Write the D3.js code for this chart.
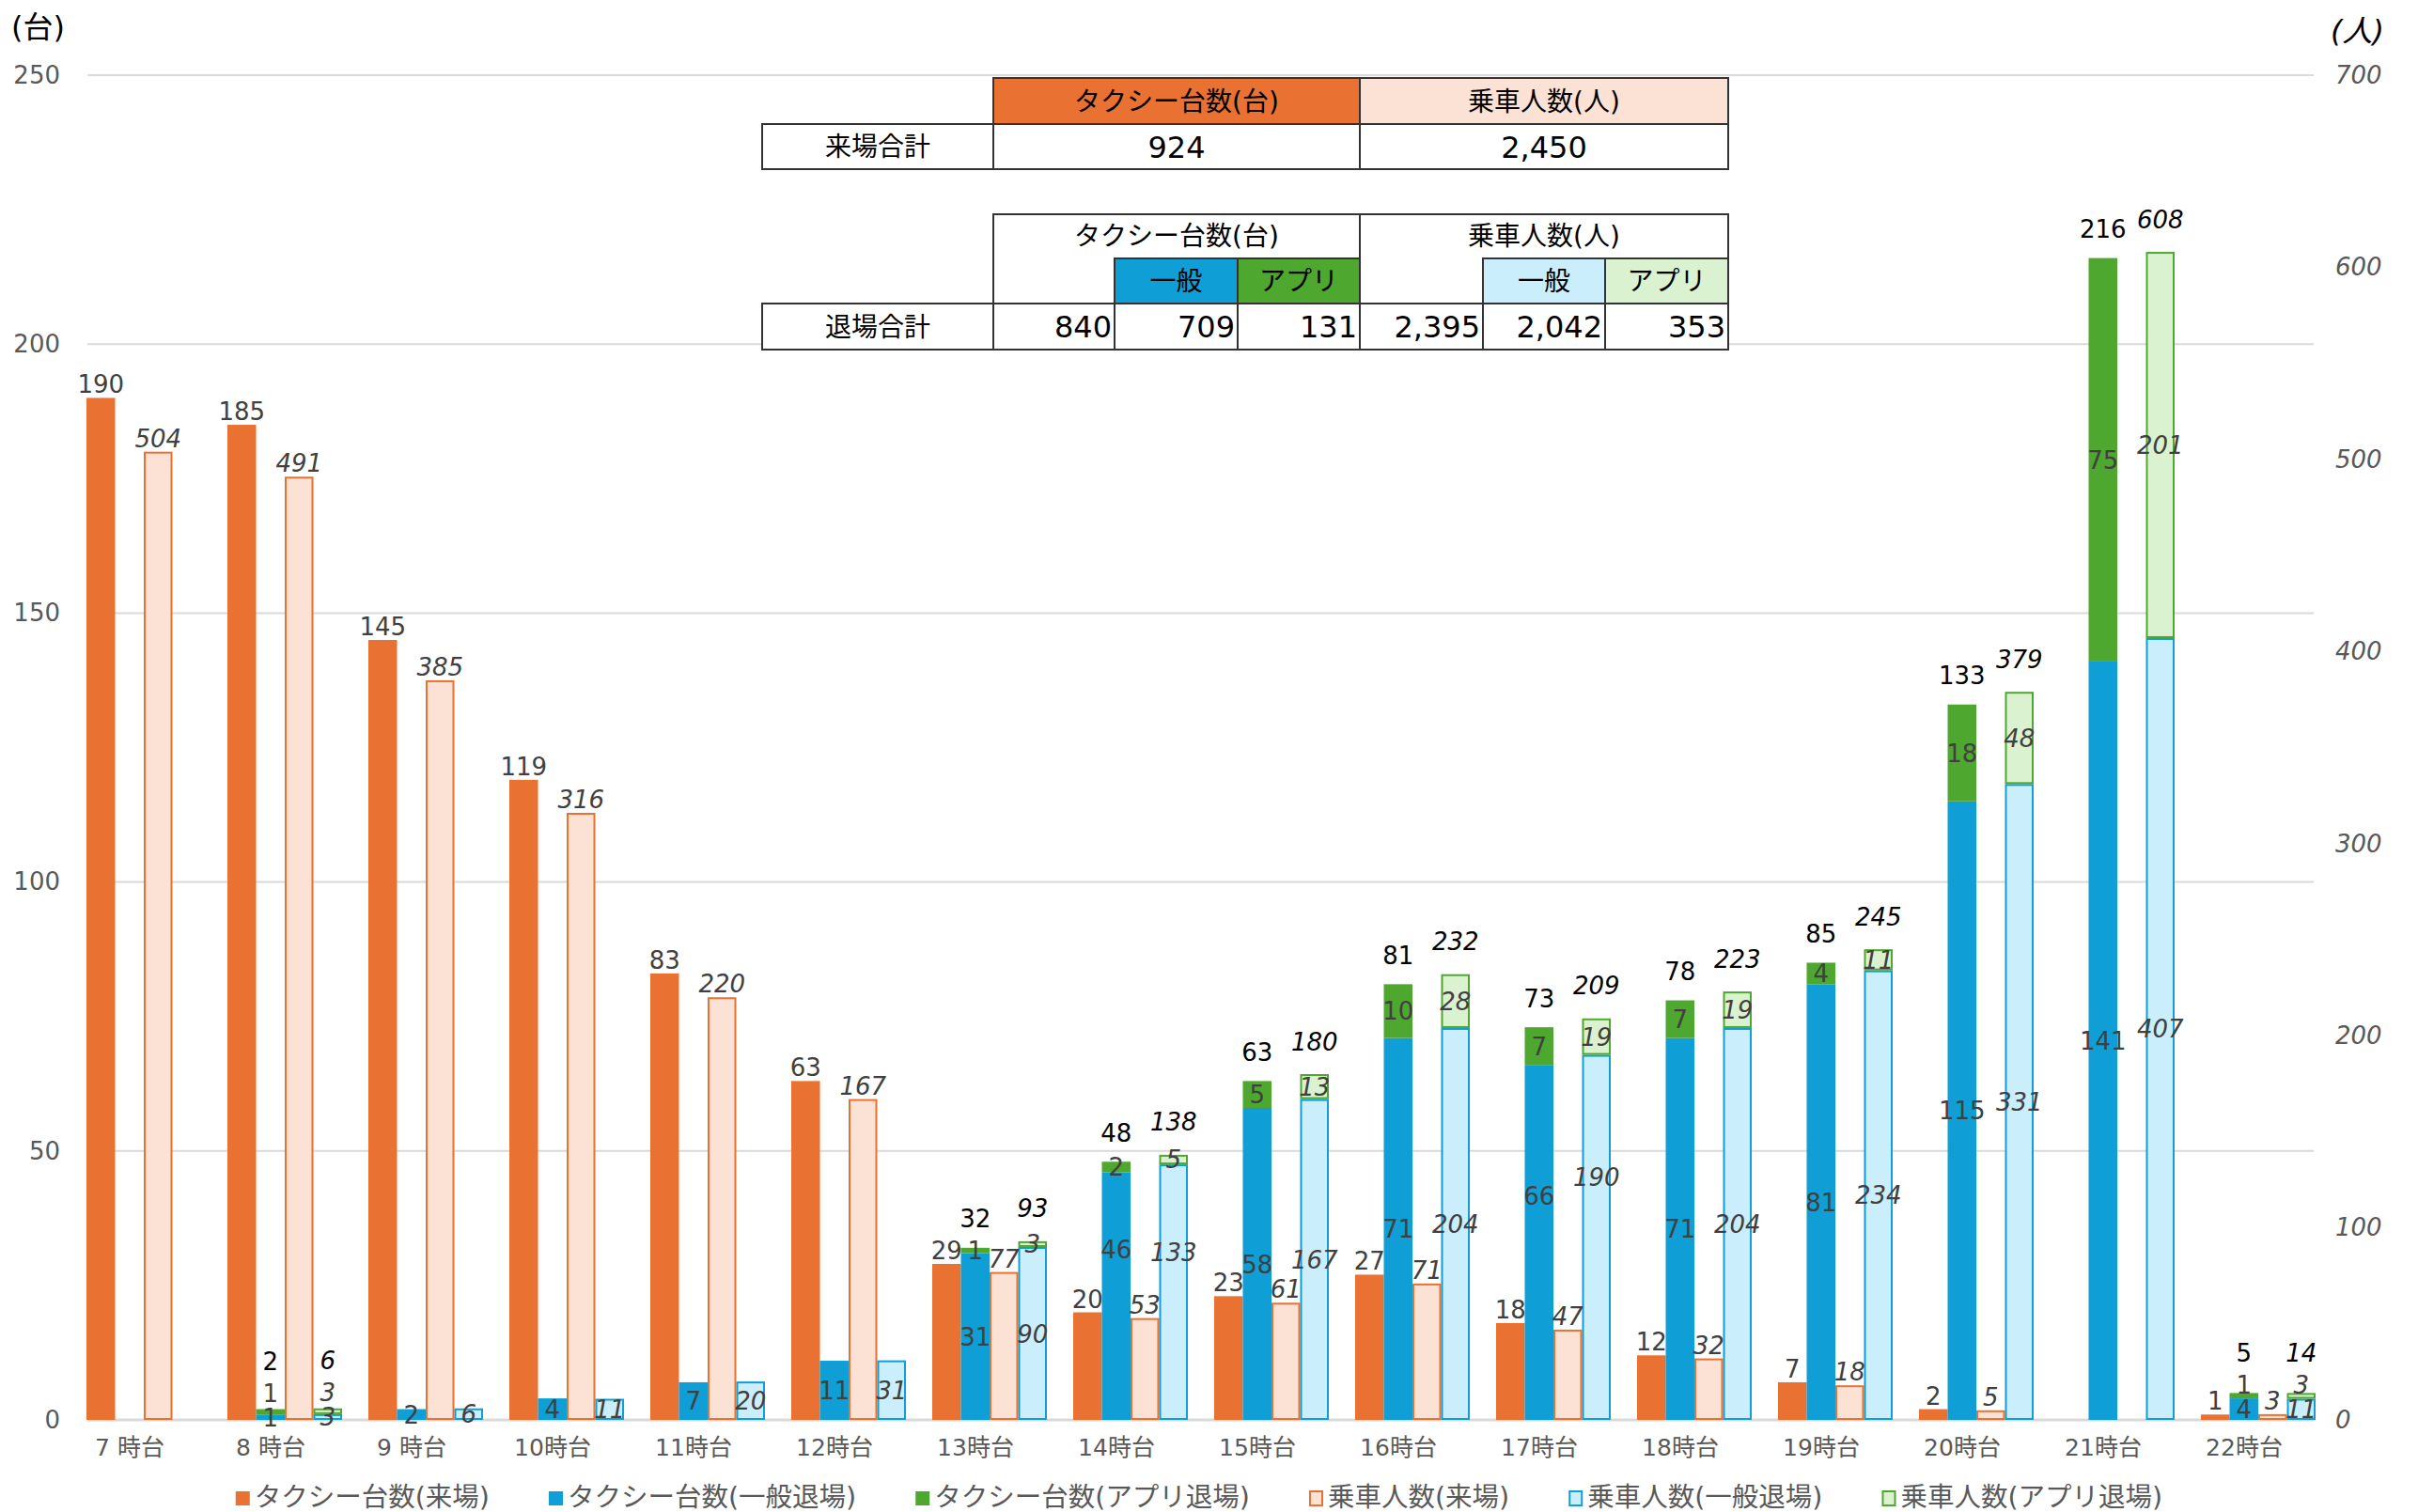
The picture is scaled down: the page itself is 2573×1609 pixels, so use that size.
<!DOCTYPE html>
<html lang="ja">
<head>
<meta charset="utf-8">
<script src="https://cdn.jsdelivr.net/npm/d3@7"></script>
<style>
  body { margin: 0; background: #fff; }
  svg text { font-family: "DejaVu Sans", "Noto Sans CJK JP", sans-serif; }
</style>
</head>
<body>
<script>
//----------------- Data -----------------

const hours = ["7 時台", "8 時台", "9 時台", "10時台", "11時台", "12時台", "13時台", "14時台",
  "15時台", "16時台", "17時台", "18時台", "19時台", "20時台", "21時台", "22時台"];

// taxis (台) - left axis
const taxiArrive  = [190, 185, 145, 119, 83, 63, 29, 20, 23, 27, 18, 12, 7, 2, null, 1];
const taxiGeneral = [null, 1, 2, 4, 7, 11, 31, 46, 58, 71, 66, 71, 81, 115, 141, 4];
const taxiApp     = [null, 1, null, null, null, null, 1, 2, 5, 10, 7, 7, 4, 18, 75, 1];

// passengers (人) - right axis
const paxArrive  = [504, 491, 385, 316, 220, 167, 77, 53, 61, 71, 47, 32, 18, 5, null, 3];
const paxGeneral = [null, 3, 6, 11, 20, 31, 90, 133, 167, 204, 190, 204, 234, 331, 407, 11];
const paxApp     = [null, 3, null, null, null, null, 3, 5, 13, 28, 19, 19, 11, 48, 201, 3];

const leftTicks = [0, 50, 100, 150, 200, 250];
const rightTicks = [0, 100, 200, 300, 400, 500, 600, 700];

const legendNames = ["タクシー台数(来場)", "タクシー台数(一般退場)", "タクシー台数(アプリ退場)",
  "乗車人数(来場)", "乗車人数(一般退場)", "乗車人数(アプリ退場)"];

//----------------- Styles -----------------

const ORANGE = "#E97132", BLUE = "#0F9ED5", GREEN = "#4EA72E";
const L_ORANGE = "#FBE2D5", L_BLUE = "#CAEEFB", L_GREEN = "#DAF2D0";
const GRID = "#D9D9D9", AXIS_TXT = "#595959", LBL = "#404040";

// labels that were dragged up by hand in the original
const labelLift = { "14時台": { taxi: 50, pax: 43 }, "17時台": { taxi: 50, pax: 64 } };

const width = 2573, height = 1609;
const plotL = 93, plotR = 2462, plotT = 80, plotB = 1511;

const svg = d3.select("body").append("svg").attr("width", width).attr("height", height);

//----------------- Scales -----------------

const x = d3.scaleBand().domain(hours).range([92, 2464]).paddingInner(0.1867).paddingOuter(0);
const sub = d3.scaleBand().domain(["ta", "tg", "pa", "pg"]).range([0, x.bandwidth()]);
const yL = d3.scaleLinear().domain([0, 250]).range([plotB, plotT]);
const yR = d3.scaleLinear().domain([0, 700]).range([plotB, plotT]);

//----------------- Grid & axes -----------------

svg.append("g").selectAll("line").data(leftTicks).enter().append("line")
  .attr("x1", plotL).attr("x2", plotR)
  .attr("y1", (d) => yL(d)).attr("y2", (d) => yL(d))
  .attr("stroke", GRID).attr("stroke-width", (d) => (d === 0 ? 3 : 2));

const axL = svg.append("g").attr("transform", "translate(72,0)")
  .call(d3.axisLeft(yL).tickValues(leftTicks).tickSize(0).tickPadding(8));
axL.select(".domain").remove();
axL.selectAll("text").style("font-size", "26px").attr("fill", AXIS_TXT);

const axR = svg.append("g").attr("transform", "translate(2477,0)")
  .call(d3.axisRight(yR).tickValues(rightTicks).tickSize(0).tickPadding(8));
axR.select(".domain").remove();
axR.selectAll("text").style("font-size", "26px").style("font-style", "italic").attr("fill", AXIS_TXT);

const axX = svg.append("g").attr("transform", `translate(-15,${plotB})`)
  .call(d3.axisBottom(x).tickSize(0));
axX.select(".domain").remove();
axX.selectAll("text").style("font-size", "25px").attr("fill", AXIS_TXT).attr("y", 29).attr("dy", "0.35em");

svg.append("text").text("(台)").attr("x", 12).attr("y", 40).style("font-size", "32px").attr("fill", "#000");
svg.append("text").text("(人)").attr("x", 2480).attr("y", 44).style("font-size", "32px")
  .style("font-style", "italic").attr("fill", "#000");

//----------------- Bars -----------------

const bars = svg.append("g");
const labels = svg.append("g");

function label(cx, cy, txt, italic, color) {
  labels.append("text").text(txt)
    .attr("x", cx).attr("y", cy + 9.5)
    .attr("text-anchor", "middle")
    .style("font-size", "26px")
    .style("font-style", italic ? "italic" : "normal")
    .attr("fill", color);
}

function rect(x0, w, yTop, yBot, fill, stroke) {
  const r = bars.append("rect").attr("fill", fill);
  if (stroke) {
    r.attr("x", x0 + 1).attr("width", w - 2).attr("y", yTop + 1).attr("height", Math.max(0, yBot - yTop - 2))
      .attr("stroke", stroke).attr("stroke-width", 2);
  } else {
    r.attr("x", x0).attr("width", w).attr("y", yTop).attr("height", yBot - yTop);
  }
}

// one arrival bar + one stacked departure bar (general / app)
function drawPair(h, i, arrive, general, app, y, kind, italic, fills) {
  const bw = sub.bandwidth();
  const xa = x(h) + sub(kind === "taxi" ? "ta" : "pa");
  const xd = x(h) + sub(kind === "taxi" ? "tg" : "pg");
  const outline = kind === "pax";

  if (arrive != null) {
    rect(xa, bw, y(arrive), y(0), fills.arrive, outline ? ORANGE : null);
    label(xa + bw / 2, y(arrive) - 14.5, arrive, italic, LBL);
  }

  const stack = d3.stack().keys(["general", "app"])([{ general: general || 0, app: app || 0 }]);
  const [gSeg, aSeg] = stack;
  if (general != null) {
    rect(xd, bw, y(gSeg[0][1]), y(gSeg[0][0]), fills.general, outline ? BLUE : null);
  }
  if (app != null) {
    rect(xd, bw, y(aSeg[0][1]), y(aSeg[0][0]), fills.app, outline ? GREEN : null);
  }

  const lift = (labelLift[h] || {})[kind] || 0;
  const genY = (y(gSeg[0][0]) + y(gSeg[0][1])) / 2 - lift;
  if (general != null) label(xd + bw / 2, genY, general, italic, LBL);
  if (app != null) {
    const appY = Math.min((y(aSeg[0][0]) + y(aSeg[0][1])) / 2, genY - 26);
    label(xd + bw / 2, appY, app, italic, LBL);
    const total = aSeg[0][1];
    const totY = Math.min(y(total) - (italic ? 35 : 31), appY - 34);
    label(xd + bw / 2, totY, total, italic, "#000");
  }
}

hours.forEach((h, i) => {
  drawPair(h, i, taxiArrive[i], taxiGeneral[i], taxiApp[i], yL, "taxi", false,
    { arrive: ORANGE, general: BLUE, app: GREEN });
  drawPair(h, i, paxArrive[i], paxGeneral[i], paxApp[i], yR, "pax", true,
    { arrive: L_ORANGE, general: L_BLUE, app: L_GREEN });
});

//----------------- Summary tables -----------------

const fmt = d3.format(",");
const sum = (arr) => d3.sum(arr, (d) => d || 0);

const taxiIn = sum(taxiArrive), paxIn = sum(paxArrive);
const taxiG = sum(taxiGeneral), taxiA = sum(taxiApp);
const paxG = sum(paxGeneral), paxA = sum(paxApp);

// [x0, x1, y0, y1, fill, text, align, textCenterY]
const cells = [
  [1057, 1447, 83, 132, ORANGE, "タクシー台数(台)", "middle"],
  [1447, 1839, 83, 132, L_ORANGE, "乗車人数(人)", "middle"],
  [811, 1057, 132, 180, "#fff", "来場合計", "middle"],
  [1057, 1447, 132, 180, "#fff", fmt(taxiIn), "middle"],
  [1447, 1839, 132, 180, "#fff", fmt(paxIn), "middle"],

  [1057, 1447, 228, 323, "#fff", "タクシー台数(台)", "middle", 251],
  [1447, 1839, 228, 323, "#fff", "乗車人数(人)", "middle", 251],
  [1186, 1317, 275, 323, BLUE, "一般", "middle"],
  [1317, 1447, 275, 323, GREEN, "アプリ", "middle"],
  [1578, 1708, 275, 323, L_BLUE, "一般", "middle"],
  [1708, 1839, 275, 323, L_GREEN, "アプリ", "middle"],
  [811, 1057, 323, 372, "#fff", "退場合計", "middle"],
  [1057, 1186, 323, 372, "#fff", fmt(taxiG + taxiA), "end"],
  [1186, 1317, 323, 372, "#fff", fmt(taxiG), "end"],
  [1317, 1447, 323, 372, "#fff", fmt(taxiA), "end"],
  [1447, 1578, 323, 372, "#fff", fmt(paxG + paxA), "end"],
  [1578, 1708, 323, 372, "#fff", fmt(paxG), "end"],
  [1708, 1839, 323, 372, "#fff", fmt(paxA), "end"],
];

const table = svg.append("g");
cells.forEach(([x0, x1, y0, y1, fill, txt, align, cy]) => {
  table.append("rect").attr("x", x0).attr("y", y0).attr("width", x1 - x0).attr("height", y1 - y0)
    .attr("fill", fill).attr("stroke", "#333").attr("stroke-width", 2);
  const isNum = /^[0-9,]+$/.test(txt);
  const c = cy || (y0 + y1) / 2;
  table.append("text").text(txt)
    .attr("x", align === "end" ? x1 - 3 : (x0 + x1) / 2)
    .attr("y", c + (isNum ? 11.5 : 10))
    .attr("text-anchor", align)
    .style("font-size", isNum ? "32px" : "28px")
    .attr("fill", "#000");
});

//----------------- Legend -----------------

const legendStyle = [
  { fill: ORANGE, stroke: null }, { fill: BLUE, stroke: null }, { fill: GREEN, stroke: null },
  { fill: L_ORANGE, stroke: ORANGE }, { fill: L_BLUE, stroke: BLUE }, { fill: L_GREEN, stroke: GREEN },
];

const legend = svg.append("g").attr("id", "legend");
let lx = 0;
legendNames.forEach((name, i) => {
  const item = legend.append("g").attr("transform", `translate(${lx},0)`);
  const st = legendStyle[i];
  item.append("rect").attr("x", st.stroke ? 1 : 0).attr("y", -7).attr("width", st.stroke ? 13 : 15).attr("height", 15)
    .attr("fill", st.fill).attr("stroke", st.stroke || "none").attr("stroke-width", 2);
  const t = item.append("text").text(name).attr("x", 20).attr("y", 9)
    .style("font-size", "28.5px").attr("fill", AXIS_TXT);
  lx += 20 + t.node().getComputedTextLength() + 63;
});
lx -= 63;
legend.attr("transform", `translate(${1276 - lx / 2},1594)`);
</script>
</body>
</html>
